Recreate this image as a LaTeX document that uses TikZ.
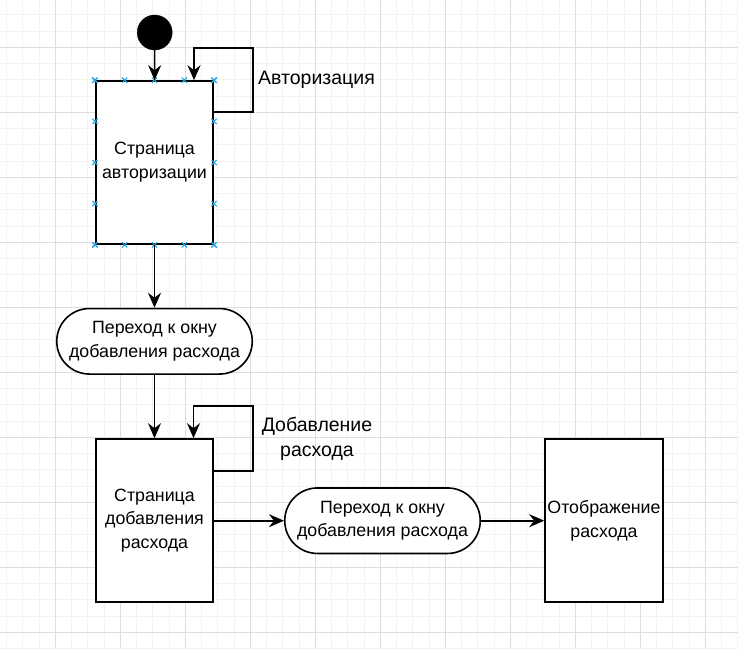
\documentclass[tikz,border=0pt]{standalone}
\usepackage{fontspec}
\setmainfont{Liberation Sans}
\usetikzlibrary{arrows.meta,calc}
\definecolor{gridminor}{RGB}{242,242,242}
\definecolor{gridmajor}{RGB}{222,222,222}
\definecolor{cpblue}{RGB}{30,165,230}
\tikzset{
  minorline/.style={draw=gridminor, line width=0.8pt},
  majorline/.style={draw=gridmajor, line width=0.8pt},
  boxnode/.style={draw=black, fill=white, line width=1.6pt, minimum width=117.5pt, minimum height=163pt, align=center, inner sep=0pt, font=\fontsize{17.8}{23.8}\selectfont},
  termnode/.style={draw=black, fill=white, line width=1.6pt, minimum width=195.5pt, minimum height=65.5pt, rounded corners=32.7pt, align=center, inner sep=0pt, font=\fontsize{17.8}{23.5}\selectfont},
  startnode/.style={circle, fill=black, draw=black, minimum size=35pt, inner sep=0pt},
  labelnode/.style={align=center, inner sep=0pt, font=\fontsize{19.5}{25}\selectfont},
  arr/.style={draw=black, line width=1.6pt, -{Stealth[length=15pt, width=13pt, inset=5pt]}},
  cpmark/.style={draw=cpblue, line width=1.1pt}
}
\newcommand{\cpxmark}[1]{%
  \draw[cpmark] ($(#1)+(-2.6,-2.6)$) -- ($(#1)+(2.6,2.6)$);
  \draw[cpmark] ($(#1)+(-2.6,2.6)$) -- ($(#1)+(2.6,-2.6)$);}
\begin{document}
\begin{tikzpicture}[x=1pt, y=-1pt]
\useasboundingbox (0,0) rectangle (738,648);
\fill[white] (0,0) rectangle (738,648);
% grid
\foreach \i in {0,...,45} { \draw[minorline] ({6.55+16.25*\i},0) -- ({6.55+16.25*\i},648); }
\foreach \i in {0,...,39} { \draw[minorline] (0,{14.8+16.25*\i}) -- (738,{14.8+16.25*\i}); }
\foreach \i in {-1,...,11} { \draw[majorline] ({55.3+65*\i},0) -- ({55.3+65*\i},648); }
\foreach \i in {-1,...,9} { \draw[majorline] (0,{47.3+65*\i}) -- (738,{47.3+65*\i}); }

% nodes
\node[startnode] (start) at (154.7,32.5) {};
\node[boxnode] (b1) at (154.5,162.5) {Страница\\авторизации};
\node[termnode] (n2) at (154.5,341.3) {Переход к окну\\добавления расхода};
\node[boxnode] (b3) at (154.5,520.5) {Страница\\добавления\\расхода};
\node[termnode] (n4) at (382.5,520.7) {Переход к окну\\добавления расхода};
\node[boxnode, minimum width=118pt] (b5) at (604,520.7) {Отображение\\расхода};
\node[labelnode] (lab1) at (316.5,79.5) {Авторизация};
\node[labelnode] (lab2) at (317,439) {Добавление\\расхода};

% connection point marks on b1
\foreach \t [count=\k] in {0,0.25,0.5,0.75,1} {
  \coordinate (cpt\k) at ($(b1.north west)!\t!(b1.north east)$);
  \coordinate (cpb\k) at ($(b1.south west)!\t!(b1.south east)$);
  \coordinate (cpl\k) at ($(b1.north west)!\t!(b1.south west)$);
  \coordinate (cpr\k) at ($(b1.north east)!\t!(b1.south east)$);
  \cpxmark{cpt\k}
  \cpxmark{cpb\k}
  \cpxmark{cpl\k}
  \cpxmark{cpr\k}
}

% connectors
\draw[arr] (start) -- (b1);
\draw[arr] (b1) -- (n2);
\draw[arr] (n2) -- (b3);
\draw[arr] (b3.east |- n4.west) -- (n4.west);
\draw[arr] (n4) -- (b5);
\draw[arr] ([yshift=-32pt]b1.north east) -- ++(38.7,0) -- ++(0,-64) -| ([xshift=39.5pt]b1.north);
\draw[arr] ([yshift=-33pt]b3.north east) -- ++(38.7,0) -- ++(0,-65) -| ([xshift=39pt]b3.north);
\end{tikzpicture}
\end{document}
